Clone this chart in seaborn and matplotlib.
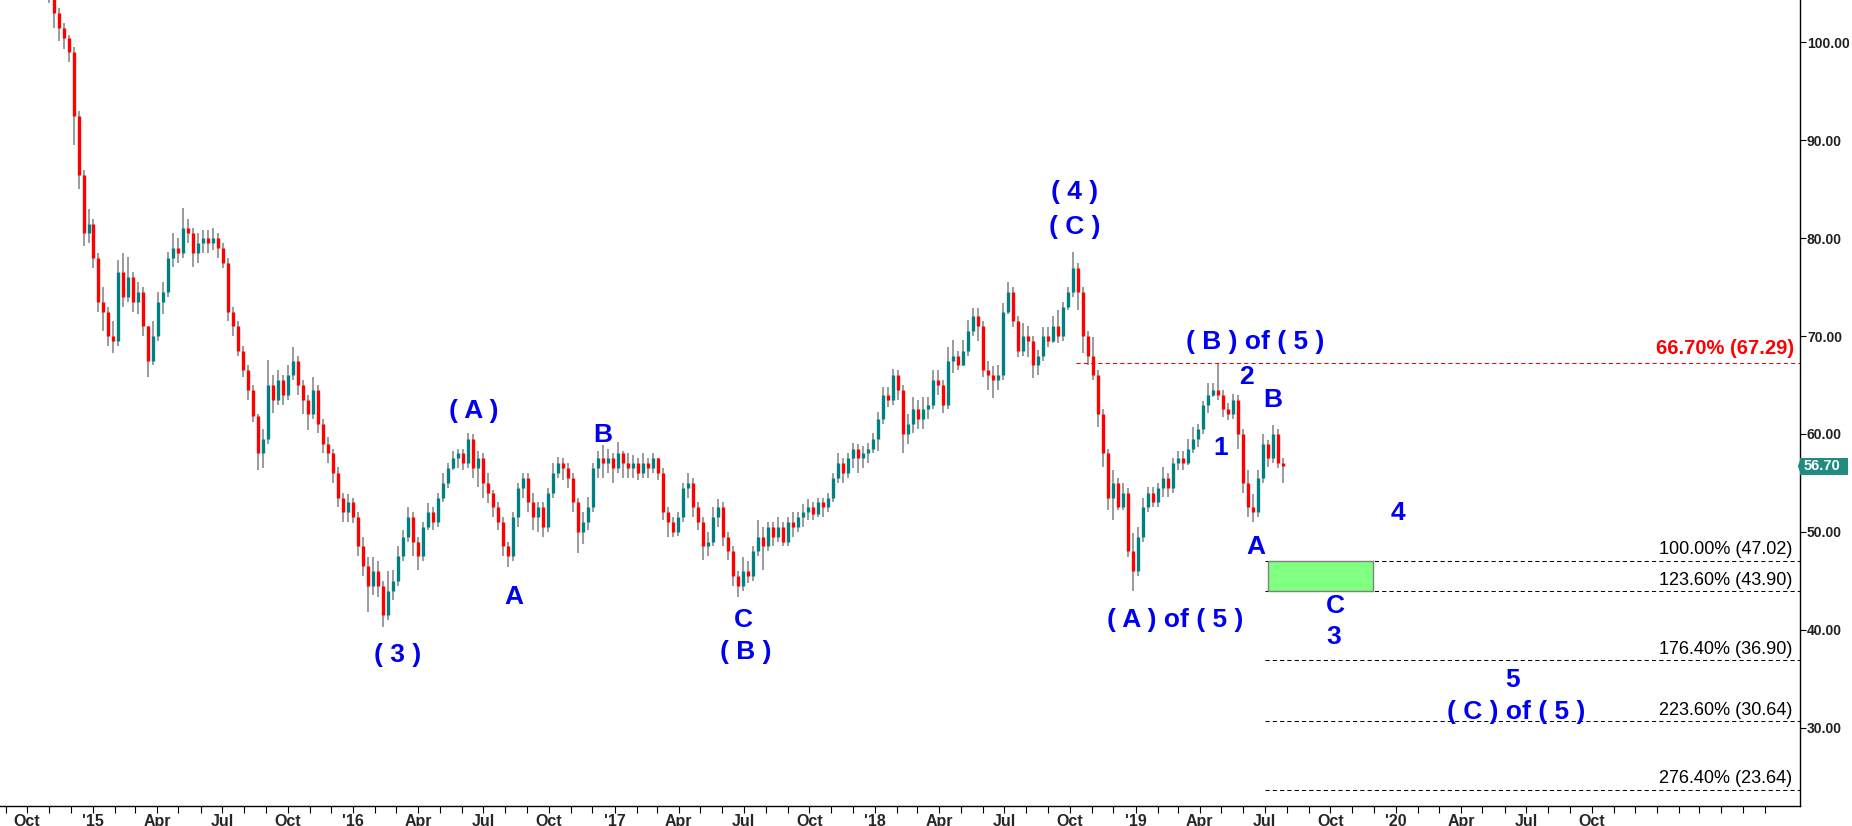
import pandas as pd
import matplotlib
matplotlib.use("Agg")
import matplotlib.pyplot as plt
import matplotlib.dates as mdates
import matplotlib.transforms as mtransforms
from matplotlib.patches import Rectangle, Polygon
import seaborn as sns

# Weekly candles, first week ends 2014-10-31
week_start = "2014-10-31"
first_open = 106.5
closes = [
    105.5, 103.0, 101.5, 100.5, 99.0, 92.5, 86.5, 80.5, 81.5, 78.0,
    73.5, 72.5, 70.0, 69.5, 76.5, 74.0, 76.0, 73.5, 74.5, 71.0,
    67.5, 70.0, 73.5, 74.5, 78.0, 79.0, 78.5, 81.0, 80.5, 78.5,
    79.5, 80.0, 79.5, 80.0, 79.0, 77.5, 72.5, 71.0, 68.5, 66.5,
    64.5, 61.8, 58.0, 59.5, 65.0, 63.5, 65.5, 64.0, 66.0, 67.5,
    65.0, 63.5, 62.0, 64.5, 61.0, 59.0, 58.0, 56.0, 53.5, 52.0,
    53.0, 51.5, 48.5, 46.5, 44.5, 46.0, 44.5, 41.5, 44.0, 45.0,
    47.5, 49.5, 51.5, 49.0, 47.5, 50.5, 52.0, 51.0, 53.5, 55.0,
    56.5, 57.5, 58.0, 57.0, 59.5, 56.5, 57.5, 55.0, 54.0, 52.5,
    51.0, 48.5, 47.5, 51.5, 54.5, 55.5, 53.0, 51.5, 52.5, 50.5,
    54.0, 56.0, 57.0, 56.5, 55.5, 53.0, 50.0, 51.0, 52.5, 56.5,
    57.5, 57.0, 57.5, 56.5, 58.0, 57.0, 56.5, 57.0, 56.0, 57.0,
    56.5, 57.5, 56.0, 52.0, 51.0, 50.0, 51.5, 54.5, 55.0, 52.5,
    51.0, 48.5, 49.0, 51.5, 52.5, 49.5, 48.0, 45.5, 44.5, 46.0,
    45.5, 48.0, 49.5, 48.5, 50.5, 49.5, 50.5, 49.0, 51.0, 50.5,
    51.5, 52.0, 52.5, 51.8, 53.0, 52.5, 53.5, 55.5, 57.0, 56.0,
    57.5, 58.5, 57.5, 58.0, 58.5, 59.5, 61.5, 64.0, 63.5, 66.0,
    64.5, 60.0, 61.0, 62.5, 61.5, 62.5, 63.0, 65.5, 65.0, 63.0,
    67.5, 68.0, 67.0, 68.5, 70.5, 72.0, 71.0, 66.5, 66.0, 65.5,
    66.0, 72.5, 74.5, 71.5, 68.5, 70.0, 69.5, 67.0, 68.0, 70.0,
    69.5, 71.0, 70.0, 73.0, 74.5, 77.0, 74.5, 70.0, 68.0, 66.0,
    62.0, 58.0, 53.5, 55.0, 52.5, 54.0, 48.0, 46.0, 49.5, 52.5,
    54.0, 53.0, 54.5, 55.5, 54.5, 57.0, 57.5, 57.0, 58.5, 59.5,
    60.5, 63.0, 64.0, 64.5, 64.0, 62.5, 62.0, 63.5, 60.0, 55.0,
    52.5, 52.0, 55.5, 59.0, 57.5, 60.0, 57.0, 56.7,
]
highs = [
    107.0, 106.0, 103.5, 102.0, 100.8, 99.5, 93.0, 87.0, 83.0, 82.0,
    78.5, 75.0, 73.0, 71.5, 77.8, 78.5, 78.1, 76.5, 75.5, 75.0,
    71.0, 71.5, 74.5, 75.5, 78.6, 80.5, 80.0, 83.1, 82.0, 81.0,
    80.5, 80.8, 80.8, 81.0, 80.5, 79.5, 78.0, 73.0, 71.5, 69.0,
    67.0, 65.0, 62.0, 60.5, 67.6, 66.0, 66.5, 66.0, 67.0, 68.9,
    68.0, 65.5, 64.0, 65.8, 65.0, 61.5, 59.7, 58.5, 56.6, 54.0,
    53.9, 53.5, 52.0, 49.5, 47.4, 47.4, 47.0, 45.0, 46.0, 46.1,
    48.5, 50.2, 52.5, 52.0, 49.5, 51.0, 52.9, 52.5, 54.0, 56.0,
    57.0, 58.3, 58.5, 58.5, 60.1, 60.0, 58.3, 58.0, 56.0, 54.3,
    53.0, 51.5, 49.0, 52.0, 55.0, 56.0, 56.0, 54.0, 53.0, 53.0,
    54.5, 57.0, 57.6, 57.5, 57.0, 56.0, 53.5, 52.0, 53.6, 57.0,
    58.3, 58.9, 58.5, 58.0, 59.2, 58.3, 58.0, 57.8, 57.5, 58.0,
    57.5, 58.0, 57.5, 56.5, 52.5, 51.5, 52.0, 55.0, 56.0, 55.5,
    53.0, 51.5, 50.0, 52.5, 53.4, 53.0, 50.0, 48.5, 46.0, 47.4,
    47.0, 48.5, 51.2, 50.5, 51.0, 51.0, 51.5, 51.0, 51.5, 52.0,
    52.0, 52.8, 53.3, 53.0, 53.5, 53.5, 54.0, 56.0, 58.0, 57.5,
    58.0, 59.1, 59.0, 58.8, 59.1, 60.1, 62.2, 64.8, 64.8, 66.6,
    66.5, 65.0, 62.0, 63.8, 63.5, 63.8, 63.8, 66.5, 66.5, 65.5,
    68.9, 69.6, 68.5, 69.6, 71.6, 72.9, 72.9, 71.5, 67.5, 66.9,
    67.0, 73.4, 75.5, 75.0, 72.0, 71.3, 71.0, 70.0, 68.6, 70.9,
    70.9, 72.0, 72.7, 73.5, 75.0, 78.6, 77.5, 75.0, 70.5, 69.9,
    66.5, 62.5, 58.5, 56.3, 55.5, 55.0, 54.5, 49.9, 50.5, 53.5,
    54.6, 54.6, 55.0, 56.6, 56.0, 57.5, 58.3, 58.3, 59.5, 60.7,
    61.0, 63.4, 65.2, 65.2, 67.2, 64.5, 63.2, 64.1, 64.0, 60.5,
    56.3, 53.9, 56.3, 60.0, 59.4, 60.9, 60.5, 57.5,
]
lows = [
    104.0, 101.5, 100.2, 99.3, 98.0, 89.5, 85.0, 79.2, 79.5, 77.0,
    72.5, 70.5, 69.0, 68.3, 69.0, 73.0, 73.5, 72.5, 72.3, 70.0,
    65.8, 67.0, 69.5, 72.3, 74.0, 77.1, 77.5, 78.0, 79.5, 77.1,
    77.5, 78.5, 78.5, 78.8, 78.0, 77.0, 71.5, 70.0, 68.0, 65.8,
    63.5, 61.2, 56.3, 56.5, 59.0, 62.1, 63.0, 63.0, 63.5, 65.5,
    64.0, 62.0, 60.4, 61.5, 60.1, 58.0, 57.0, 55.0, 52.5, 51.0,
    51.0, 50.9, 47.5, 45.5, 41.8, 43.5, 43.3, 40.3, 41.0, 43.0,
    44.5, 47.0, 49.0, 47.5, 46.1, 47.0, 50.2, 50.2, 50.5, 53.0,
    54.5, 56.3, 56.5, 56.3, 56.5, 55.5, 54.6, 53.5, 52.9, 51.5,
    50.2, 47.5, 46.4, 47.0, 50.5, 53.5, 52.0, 50.2, 50.0, 49.5,
    50.0, 53.5, 55.5, 55.3, 54.5, 52.0, 47.8, 48.8, 50.2, 52.0,
    55.5, 55.5, 56.0, 55.0, 56.0, 55.5, 55.5, 55.5, 55.3, 55.5,
    55.5, 56.0, 55.3, 51.2, 49.5, 49.5, 49.6, 51.0, 53.5, 51.5,
    50.2, 47.1, 47.5, 48.5, 50.5, 48.5, 47.1, 44.5, 43.3, 44.0,
    44.8, 45.0, 47.5, 46.1, 48.0, 48.5, 49.0, 48.5, 48.5, 49.5,
    50.0, 50.5, 51.2, 51.2, 51.5, 51.5, 52.0, 53.0, 55.0, 55.0,
    55.5, 56.5, 56.0, 56.5, 57.0, 58.0, 58.3, 61.0, 62.8, 63.0,
    63.5, 58.0, 59.0, 60.1, 60.5, 60.5, 61.5, 62.5, 64.0, 62.1,
    62.5, 66.2, 66.5, 66.9, 68.0, 70.0, 69.5, 65.8, 64.5, 63.7,
    64.5, 65.5, 72.3, 70.9, 67.9, 68.0, 67.9, 65.7, 66.0, 67.5,
    68.9, 69.3, 69.3, 69.5, 72.7, 74.0, 72.7, 68.3, 67.0, 65.5,
    60.7, 56.6, 52.2, 51.2, 52.2, 52.2, 47.4, 43.9, 45.5, 49.0,
    52.0, 52.5, 52.5, 53.6, 53.6, 54.0, 56.3, 56.3, 56.8, 58.0,
    58.7, 60.0, 62.1, 63.8, 63.5, 61.7, 61.4, 61.5, 58.5, 54.0,
    51.5, 51.0, 51.5, 55.0, 56.6, 57.0, 56.5, 55.0,
]
last_price = 56.70

# Fibonacci projection levels
fib_levels = [67.29, 47.02, 43.90, 36.90, 30.64, 23.64]
fib_texts = ["66.70% (67.29)", "100.00% (47.02)", "123.60% (43.90)",
             "176.40% (36.90)", "223.60% (30.64)", "276.40% (23.64)"]
fib_starts = ["2018-10-09", "2019-07-02", "2019-07-02",
              "2019-07-02", "2019-07-02", "2019-07-02"]

# target box
box_dates = ["2019-07-06", "2019-11-30"]
box_prices = [43.90, 47.02]

# Elliott wave labels: text, date, price
wave_labels = [
    ("( 4 )", "2018-10-08", 84.7),
    ("( C )", "2018-10-08", 81.15),
    ("( A )", "2016-06-18", 62.3),
    ("B", "2016-12-16", 59.9),
    ("A", "2016-08-13", 43.35),
    ("( 3 )", "2016-03-03", 37.4),
    ("C", "2017-07-01", 41.0),
    ("( B )", "2017-07-04", 37.7),
    ("( A ) of ( 5 )", "2019-02-25", 41.0),
    ("( B ) of ( 5 )", "2019-06-18", 69.4),
    ("2", "2019-06-05", 65.8),
    ("B", "2019-07-12", 63.45),
    ("1", "2019-04-30", 58.55),
    ("A", "2019-06-19", 48.45),
    ("4", "2020-01-04", 51.9),
    ("C", "2019-10-08", 42.4),
    ("3", "2019-10-05", 39.25),
    ("5", "2020-06-12", 34.85),
    ("( C ) of ( 5 )", "2020-06-17", 31.6),
]

sns.set_theme(style="white")
plt.rcParams['font.family'] = ['Liberation Sans', 'DejaVu Sans']
narrow = ['Liberation Sans Narrow', 'Liberation Sans', 'DejaVu Sans']

df = pd.DataFrame({
    "date": pd.date_range(week_start, periods=len(closes), freq="7D"),
    "open": [first_open] + closes[:-1],
    "high": highs,
    "low": lows,
    "close": closes,
})
df["x"] = mdates.date2num(df["date"])
up = df[df["close"] >= df["open"]]
down = df[df["close"] < df["open"]]

fig = plt.figure(figsize=(18.52, 8.26), dpi=100)
ax = fig.add_axes([0, 20 / 826, 1800 / 1852, 806 / 826])

xmin = mdates.date2num(pd.Timestamp("2014-08-24"))
xmax = mdates.date2num(pd.Timestamp("2021-07-20"))
ax.set_xlim(xmin, xmax)
ax.set_ylim(21.98, 104.34)

# candles
ax.vlines(df["x"], df["low"], df["high"], color="#808080", lw=1.1)
ax.vlines(up["x"], up["open"], up["close"], color="#008080", lw=2.4)
ax.vlines(down["x"], down["open"], down["close"], color="#ff0000", lw=2.4)

# fib lines + labels
yx = mtransforms.blended_transform_factory(ax.transAxes, ax.transData)
for i, (lvl, txt, start) in enumerate(zip(fib_levels, fib_texts, fib_starts)):
    col = "#ff0000" if i == 0 else "black"
    x0 = mdates.date2num(pd.Timestamp(start))
    ax.plot([x0, xmax], [lvl, lvl], color=col, lw=0.75, ls=(0, (4, 3)))
    if i == 0:
        ax.text(0.9967, lvl + 1.4, txt, transform=yx, ha="right", va="center",
                color=col, fontsize=14.5, fontweight="bold")
    else:
        ax.text(0.9956, lvl + 1.12, txt, transform=yx, ha="right", va="center",
                color=col, fontsize=13)

bx0 = mdates.date2num(pd.Timestamp(box_dates[0]))
bx1 = mdates.date2num(pd.Timestamp(box_dates[1]))
ax.add_patch(Rectangle((bx0, box_prices[0]), bx1 - bx0, box_prices[1] - box_prices[0],
                       facecolor="#80ff80", edgecolor="#808080", lw=1, zorder=3))

for txt, d, p in wave_labels:
    ax.text(mdates.date2num(pd.Timestamp(d)), p, txt, ha="center", va="center",
            color="#0000f0", fontsize=19, fontweight="bold", zorder=5)

# right price axis
ax.yaxis.tick_right()
ax.set_yticks(range(30, 101, 10))
ax.yaxis.set_major_formatter(matplotlib.ticker.FormatStrFormatter("%.2f"))
ax.tick_params(axis="y", which="both", right=True, left=False, direction="out",
               length=4, width=0.8, color="black", pad=1, labelsize=10,
               labelcolor="#202020")
for lab in ax.get_yticklabels():
    lab.set_family(narrow)
    lab.set_fontweight("bold")

# time axis
quarters = pd.date_range("2014-10-01", "2020-10-01", freq="QS-JAN")
months = pd.date_range("2014-09-01", "2021-06-01", freq="MS")
ax.set_xticks(mdates.date2num(quarters))
ax.set_xticklabels(["'" + q.strftime("%y") if q.month == 1 else q.strftime("%b")
                    for q in quarters])
ax.set_xticks(mdates.date2num(months), minor=True)
ax.tick_params(axis="x", which="both", bottom=True, direction="out", length=5,
               width=0.8, color="black", pad=1, labelsize=11.5)
for lab in ax.get_xticklabels():
    lab.set_family(narrow)
    lab.set_fontweight("bold")

for side in ["top", "left"]:
    ax.spines[side].set_visible(False)
for side in ["right", "bottom"]:
    ax.spines[side].set_color("black")
    ax.spines[side].set_linewidth(1.0)
ax.grid(False)

# last price tag
tag_h = 0.85
ax.add_patch(Rectangle((1.0, last_price - tag_h), 0.0267, 2 * tag_h, transform=yx,
                       facecolor="#208c80", edgecolor="none", clip_on=False, zorder=6))
ax.add_patch(Polygon([(0.9988, last_price), (1.0005, last_price + tag_h),
                      (1.0005, last_price - tag_h)], closed=True, transform=yx,
                     facecolor="#208c80", edgecolor="none", clip_on=False, zorder=6))
ax.text(1.0022, last_price, f"{last_price:.2f}", transform=yx, ha="left", va="center",
        color="white", fontsize=10.5, fontweight="bold", family=narrow, zorder=7)

fig.savefig("out.png", dpi=100, facecolor="white")
